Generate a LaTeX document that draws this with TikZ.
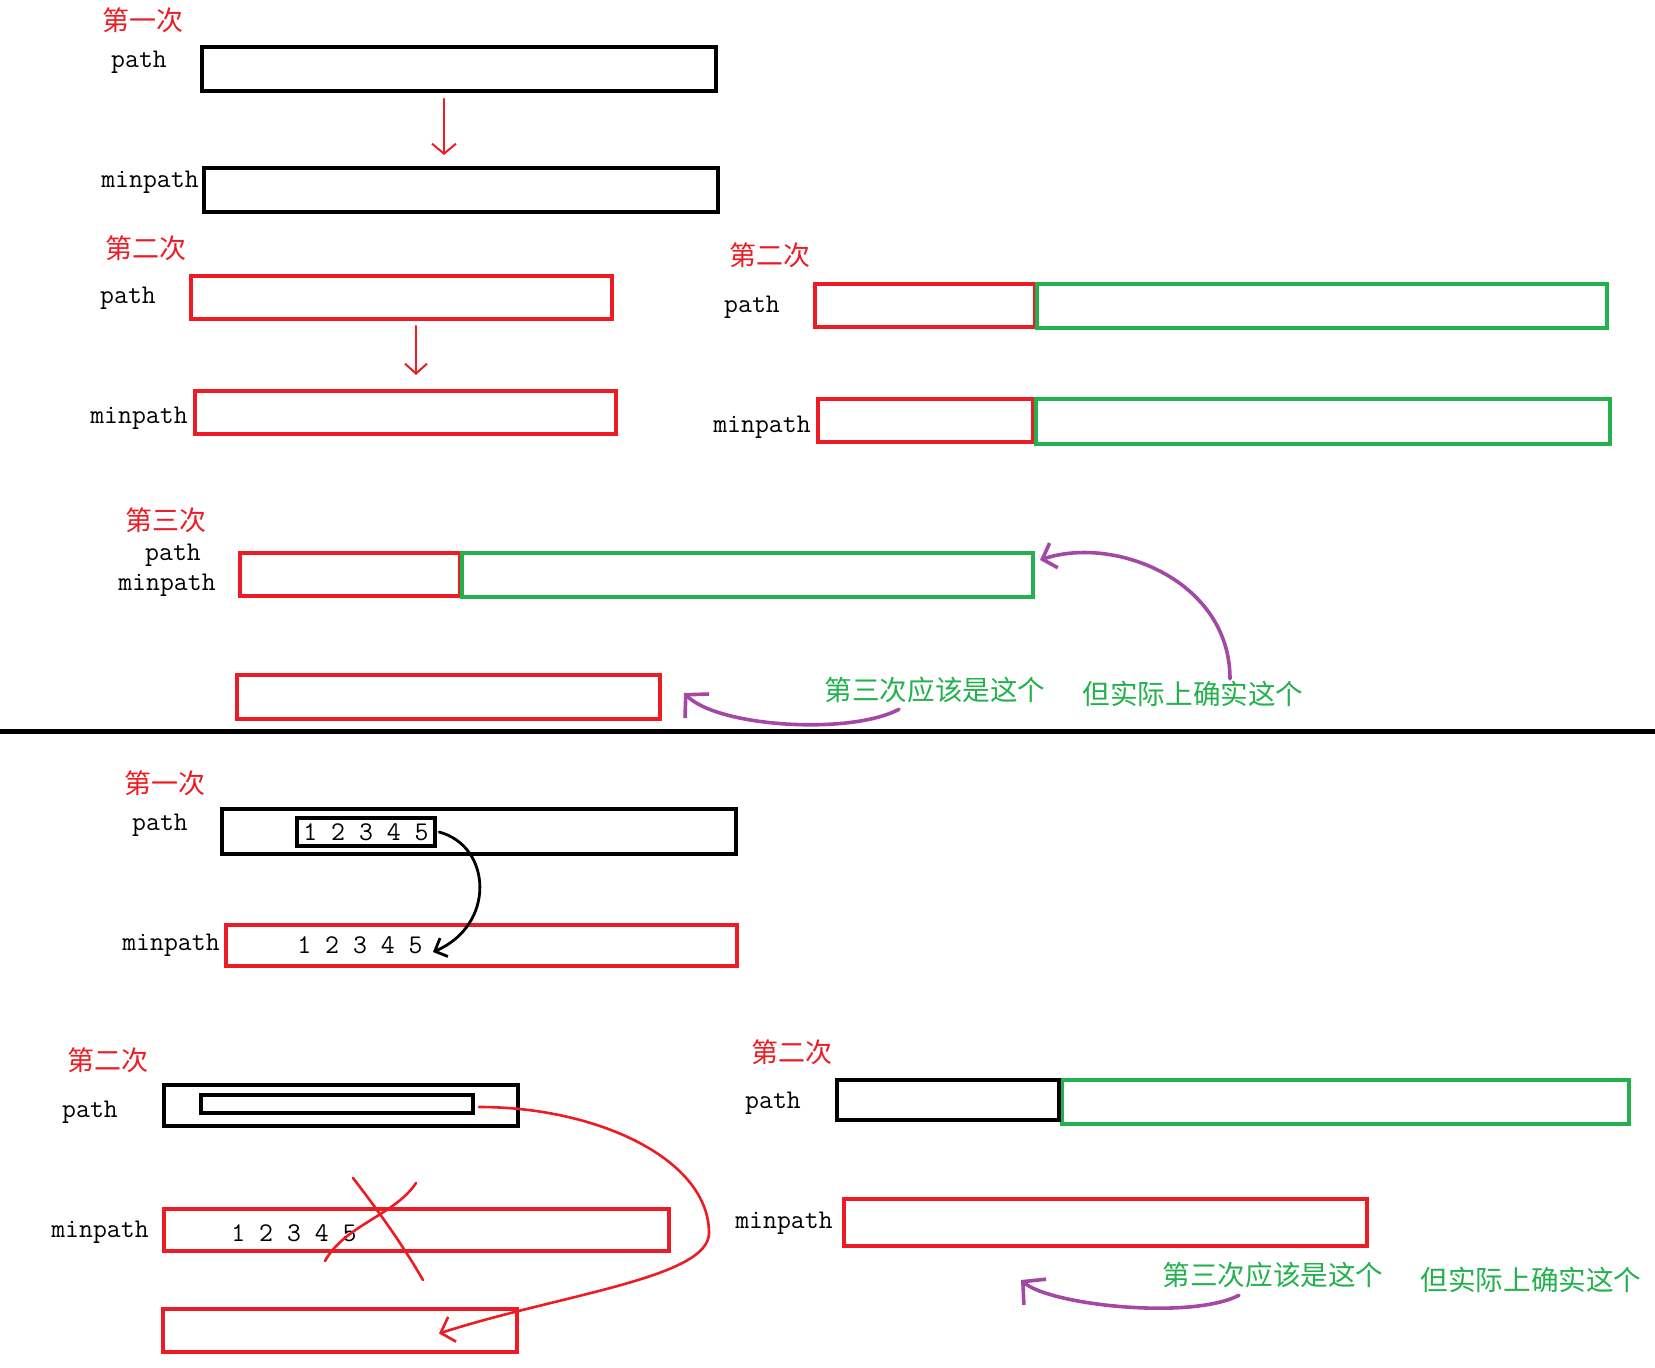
\documentclass[tikz,border=0pt]{standalone}
\usepackage{fontspec}
\newfontfamily\cjk{Noto Sans CJK SC}
\usepackage{tikz}
\usetikzlibrary{arrows.meta}
\definecolor{pred}{RGB}{237,28,36}
\definecolor{pgreen}{RGB}{34,177,76}
\definecolor{ppurple}{RGB}{163,73,164}
\tikzset{bar/.style={draw,line width=2.2pt,inner sep=0pt,outer sep=0pt}}
\tikzset{redbar/.style={bar,draw=pred}}
\tikzset{greenbar/.style={bar,draw=pgreen}}
\tikzset{blackbar/.style={bar,draw=black}}

\begin{document}
\begin{tikzpicture}[x=0.5pt,y=-0.5pt]
	\tikzstyle{times}=[text=pred,font=\cjk\fontsize{13.5}{16}\selectfont,inner sep=0pt]
	\tikzstyle{var}=[font=\ttfamily\fontsize{13.5}{16}\selectfont,inner sep=0pt]
	\tikzstyle{digits}=[font=\ttfamily\fontsize{13.5}{16}\selectfont,inner sep=1pt]
	\tikzstyle{note}=[text=pgreen,font=\cjk\fontsize{13.8}{16}\selectfont,inner sep=0pt]
	\tikzstyle{redline}=[draw=pred,line width=1pt,line cap=round]
	\tikzstyle{purpleline}=[draw=ppurple,line width=1.8pt,line cap=round]
    % picture size is fixed by a blank frame (units are pixels)
    \useasboundingbox (0,0) rectangle (1655,1368);

    % First round: plain copy
    \node (t1) [times] at (143,20) {第一次};
    \node (l1) [var] at (139,62) {path};
    \node (p1) [blackbar,minimum width=257pt,minimum height=22pt] at (459,69) {};
    \node (l2) [var] at (150,182) {minpath};
    \node (m1) [blackbar,minimum width=257pt,minimum height=22pt] at (461,190) {};

    % Second round, left
    \node (t2) [times] at (146,248) {第二次};
    \node (l3) [var] at (128,298) {path};
    \node (p2) [redbar,minimum width=210.5pt,minimum height=21.5pt] at (401.5,297.5) {};
    \node (l4) [var] at (139,418) {minpath};
    \node (m2) [redbar,minimum width=210.5pt,minimum height=21.5pt] at (405.5,412.5) {};

    \draw[redline,-{Straight Barb[length=5pt,width=12pt]}]
        ([xshift=-7.5pt,yshift=-4pt]p1.south) -- ([xshift=-8.5pt,yshift=6.5pt]m1.north);
    \draw[redline,-{Straight Barb[length=5pt,width=11pt]}]
        ([xshift=7.25pt,yshift=-3.5pt]p2.south) -- ([xshift=5.25pt,yshift=8pt]m2.north);

    % Second round, right
    \node (t3) [times] at (770,255) {第二次};
    \node (l5) [var] at (752,307) {path};
    \node (p3r) [redbar,minimum width=110pt,minimum height=21.5pt] at (925,305.5) {};
    \node (p3g) [greenbar,minimum width=285pt,minimum height=22pt] at (1322,306) {};
    \node (l6) [var] at (762,427) {minpath};
    \node (m3r) [redbar,minimum width=107.5pt,minimum height=21.5pt] at (925.5,420.5) {};
    \node (m3g) [greenbar,minimum width=287pt,minimum height=22.5pt] at (1323,421.5) {};

    % Third round
    \node (t4) [times] at (166,520) {第三次};
    \node (l7) [var] at (173,555) {path};
    \node (l8) [var] at (167,585) {minpath};
    \node (p4r) [redbar,minimum width=110pt,minimum height=21.5pt] at (350,574.5) {};
    \node (p4g) [greenbar,minimum width=285.5pt,minimum height=22pt] at (747.5,575) {};
    \node (r4) [redbar,minimum width=211.5pt,minimum height=22pt] at (448.5,697) {};
    \node (g1) [note] at (935,690) {第三次应该是这个};
    \node (g2) [note] at (1193,694) {但实际上确实这个};

    \draw[purpleline,-{Straight Barb[length=8pt,width=17pt]}]
        ([xshift=-18pt,yshift=-3pt]g1.south) .. controls +(-49,26) and +(34,34) .. ([xshift=12pt,yshift=2pt]r4.east);
    \draw[purpleline,-{Straight Barb[length=6pt,width=13pt]}]
        ([xshift=18.5pt,yshift=1pt]g2.north) .. controls +(0,-98) and +(75,-25) .. ([xshift=3.5pt,yshift=-3.5pt]p4g.north east);

    % divider
    \draw[line width=2.5pt] (0,732) -- (1655,732);

    % Lower half, first round
    \node (t5) [times] at (165,783) {第一次};
    \node (l9) [var] at (160,825) {path};
    \node (p5) [blackbar,minimum width=257pt,minimum height=22.5pt] at (479,831.5) {};
    \node (i5) [blackbar,digits,minimum width=69pt,minimum height=14pt] at (366,832) {1 2 3 4 5};
    \node (l10) [var] at (171,945) {minpath};
    \node (m5) [redbar,minimum width=255.5pt,minimum height=20.5pt] at (481.5,945.5) {};
    \node (n5) [digits] at (360,945) {1 2 3 4 5};

    \draw[line width=1.4pt,line cap=round,-{Straight Barb[length=5pt,width=10pt]}]
        ([xshift=2pt]i5.east) .. controls +(53,14) and +(63,-27) .. ([xshift=4pt,yshift=-3.5pt]n5.east);

    % Lower half, second round, left
    \node (t6) [times] at (108,1060) {第二次};
    \node (l11) [var] at (90,1112) {path};
    \node (p6) [blackbar,minimum width=177pt,minimum height=20.5pt] at (341,1105.5) {};
    \node (i6) [blackbar,minimum width=136pt,minimum height=9pt] at (337,1104) {};
    \node (l12) [var] at (100,1232) {minpath};
    \node (m6) [redbar,minimum width=252.5pt,minimum height=21pt] at (416.5,1230) {};
    \node (n6) [digits] at (294,1233) {1 2 3 4 5};
    \node (b6) [redbar,minimum width=177pt,minimum height=21.5pt] at (340,1330.5) {};

    % crossed out
    \draw[redline,line width=1.3pt] (353,1178) .. controls (370,1200) and (400,1240) .. (423,1280);
    \draw[redline,line width=1.3pt] (416,1183) .. controls (395,1215) and (345,1225) .. (325,1261);

    \coordinate (bend) at ([xshift=20pt,yshift=-1.5pt]m6.east);
    \draw[redline,line width=1.3pt,-{Straight Barb[length=6pt,width=13pt]}]
        ([xshift=3pt,yshift=-1.5pt]i6.east) .. controls +(120,0) and +(0,-73) .. (bend)
        .. controls +(0,45) and +(121,-39) .. ([xshift=-39pt,yshift=-1.5pt]b6.east);

    % Lower half, second round, right
    \node (t7) [times] at (792,1052) {第二次};
    \node (l13) [var] at (773,1103) {path};
    \node (p7g) [greenbar,minimum width=283.5pt,minimum height=22pt] at (1345.5,1102) {};
    \node (p7k) [blackbar,minimum width=111pt,minimum height=20pt] at (948,1100) {};
    \node (l14) [var] at (784,1223) {minpath};
    \node (m7) [redbar,minimum width=261.5pt,minimum height=23.5pt] at (1105.5,1222.5) {};
    \node (g3) [note] at (1273,1275) {第三次应该是这个};
    \node (g4) [note] at (1531,1280) {但实际上确实这个};

    \draw[purpleline,-{Straight Barb[length=8pt,width=17pt]}]
        ([xshift=-17pt,yshift=-3.5pt]g3.south) .. controls +(-49,25) and +(29,25) .. ([xshift=-42.25pt,yshift=-17pt]m7.south);

\end{tikzpicture}
\end{document}
